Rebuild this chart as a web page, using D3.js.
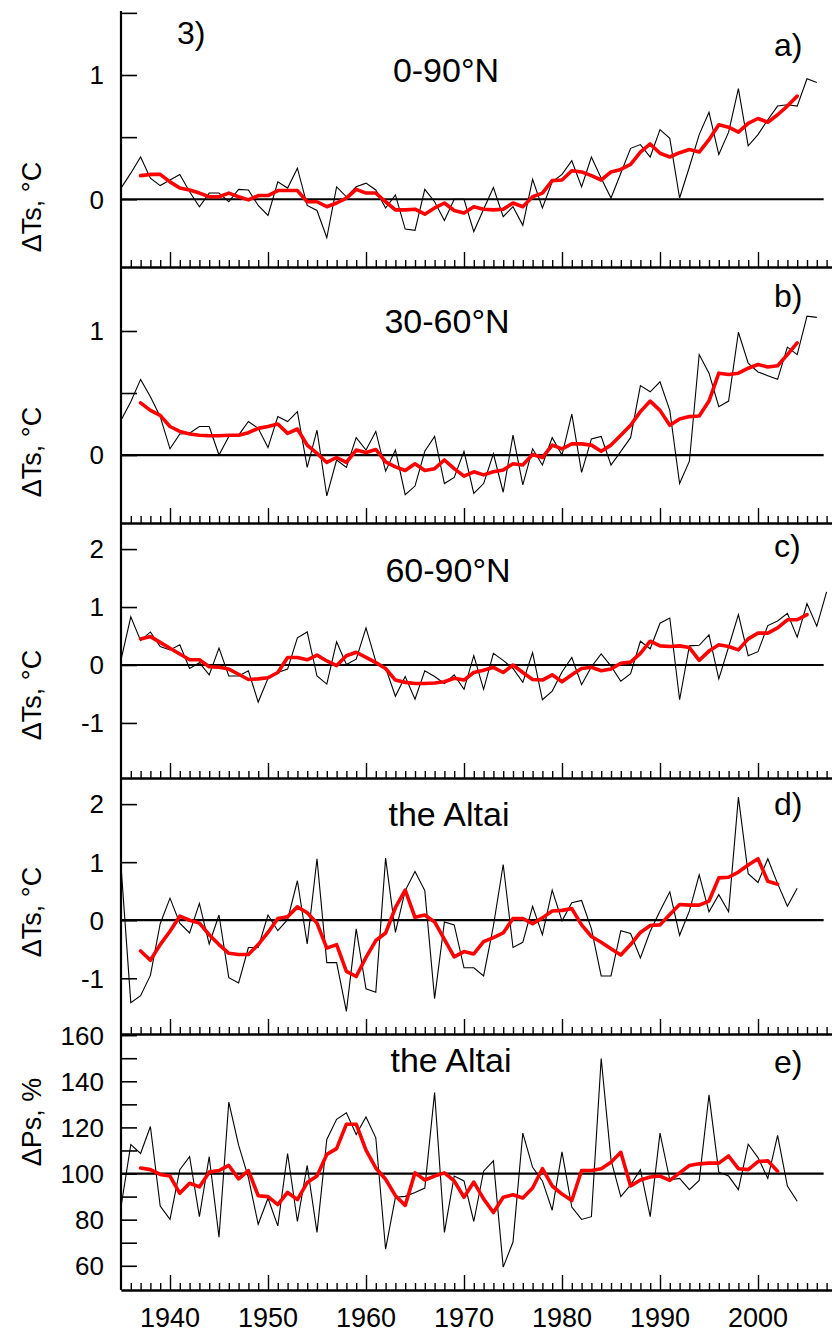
<!DOCTYPE html>
<html><head><meta charset="utf-8">
<script src="https://cdn.jsdelivr.net/npm/d3@7"></script>
<style>
body{margin:0;background:#fff}
svg{display:block}
text{font-family:"Liberation Sans",Arial,Helvetica,sans-serif;fill:#000}
</style>
</head><body>
<svg id="chart" width="832" height="1335"></svg>
<script>
// ---------- DATA ----------
const rawStartYear = 1935;     // first year of every annual (black) series
const smoothStartYear = 1937;  // first year of every smoothed (red) series
const xTickYears = [1940, 1950, 1960, 1970, 1980, 1990, 2000];

// a) 0-90°N, ΔTs °C
const tsNH = [0.09,0.21,0.34,0.17,0.11,0.155,0.20,0.06,-0.06,0.05,
  0.05,-0.02,0.08,0.075,-0.05,-0.13,0.14,0.09,0.25,-0.05,
  -0.09,-0.31,0.10,0.02,0.10,0.13,0.075,-0.07,0.035,-0.24,
  -0.25,0.08,-0.02,-0.17,0.0,0.0,-0.26,-0.08,0.094,-0.14,
  -0.06,-0.21,0.16,-0.07,0.14,0.20,0.31,0.10,0.34,0.17,
  0.01,0.21,0.41,0.44,0.34,0.56,0.49,0.01,0.26,0.52,
  0.70,0.36,0.54,0.89,0.43,0.52,0.64,0.75,0.76,0.75,
  0.97,0.94];
const tsNHSmooth = [0.19,0.20,0.20,0.14,0.09,0.075,0.05,0.02,0.02,0.05,
  0.02,-0.005,0.03,0.03,0.07,0.07,0.07,-0.02,-0.02,-0.06,
  -0.03,0.01,0.08,0.05,0.05,-0.02,-0.085,-0.085,-0.08,-0.12,
  -0.07,-0.03,-0.09,-0.11,-0.06,-0.08,-0.085,-0.08,-0.03,-0.06,
  0.02,0.05,0.15,0.155,0.23,0.22,0.19,0.155,0.22,0.24,
  0.28,0.38,0.445,0.37,0.34,0.375,0.40,0.38,0.48,0.60,
  0.58,0.54,0.61,0.65,0.62,0.68,0.75,0.83];

// b) 30-60°N, ΔTs °C
const tsMid = [0.28,0.43,0.61,0.47,0.31,0.05,0.17,0.175,0.23,0.23,
  0.0,0.15,0.16,0.27,0.215,0.06,0.31,0.27,0.35,-0.10,
  0.20,-0.33,-0.04,-0.10,0.14,0.04,0.19,-0.13,0.04,-0.32,
  -0.25,0.03,0.15,-0.23,-0.18,0.03,-0.31,-0.23,0.01,-0.30,
  0.16,-0.24,0.05,-0.08,0.14,0.0,0.33,-0.14,0.13,0.15,
  -0.08,0.03,0.14,0.56,0.51,0.59,0.36,-0.23,-0.05,0.81,
  0.66,0.39,0.435,0.99,0.74,0.67,0.64,0.61,0.87,0.81,
  1.12,1.11];
const tsMidSmooth = [0.42,0.36,0.32,0.23,0.19,0.17,0.16,0.155,0.155,0.16,
  0.16,0.18,0.215,0.23,0.25,0.175,0.21,0.08,0.013,-0.06,
  -0.02,-0.06,0.04,0.02,0.045,-0.055,-0.095,-0.125,-0.07,-0.125,
  -0.11,-0.04,-0.11,-0.17,-0.135,-0.16,-0.135,-0.12,-0.07,-0.08,
  0.005,-0.02,0.08,0.05,0.09,0.09,0.08,0.03,0.08,0.16,
  0.24,0.35,0.435,0.36,0.24,0.29,0.31,0.315,0.435,0.66,
  0.65,0.66,0.70,0.73,0.71,0.72,0.81,0.905];

// c) 60-90°N, ΔTs °C
const tsPolar = [0.09,0.83,0.42,0.57,0.32,0.26,0.35,-0.06,0.04,-0.17,
  0.29,-0.19,-0.19,-0.10,-0.64,-0.23,-0.13,-0.07,0.47,0.57,
  -0.19,-0.33,0.40,0.01,0.10,0.64,0.06,-0.05,-0.54,-0.20,
  -0.59,-0.10,-0.20,-0.32,-0.17,-0.42,0.16,-0.42,0.20,0.08,
  -0.06,-0.30,0.215,-0.60,-0.45,-0.12,0.13,-0.34,-0.03,0.19,
  -0.02,-0.28,-0.15,0.41,0.28,0.72,0.81,-0.60,0.33,0.34,
  0.52,-0.24,0.31,0.87,0.16,0.23,0.68,0.76,0.89,0.48,
  1.06,0.67,1.26];
const tsPolarSmooth = [0.45,0.49,0.39,0.29,0.19,0.09,0.09,-0.03,-0.04,-0.07,
  -0.16,-0.25,-0.24,-0.22,-0.13,0.13,0.13,0.09,0.17,0.07,
  -0.01,0.16,0.22,0.13,0.04,-0.06,-0.26,-0.30,-0.32,-0.32,
  -0.31,-0.29,-0.23,-0.26,-0.13,-0.09,-0.04,-0.13,0.0,-0.13,
  -0.25,-0.26,-0.17,-0.29,-0.17,-0.06,-0.04,-0.10,-0.07,0.03,
  0.05,0.20,0.41,0.33,0.32,0.33,0.30,0.08,0.24,0.35,
  0.32,0.26,0.45,0.55,0.55,0.64,0.78,0.78,0.87];

// d) the Altai, ΔTs °C
const tsAltai = [0.94,-1.42,-1.30,-0.95,-0.06,0.38,-0.05,-0.22,0.29,-0.41,
  0.09,-0.99,-1.08,-0.47,-0.47,0.09,-0.18,0.01,0.68,-0.41,
  1.06,-0.73,-0.73,-1.57,-0.15,-1.18,-1.24,1.07,-0.21,0.51,
  0.84,0.51,-1.35,-0.03,-0.08,-0.82,-0.82,-0.96,-0.10,0.96,
  -0.47,-0.38,0.24,-0.25,0.52,-0.01,0.30,0.34,-0.15,-0.96,
  -0.96,-0.18,-0.23,-0.65,-0.19,0.16,0.49,-0.26,0.16,0.78,
  0.145,0.44,0.145,2.12,0.80,0.65,1.06,0.63,0.24,0.55];
const tsAltaiSmooth = [-0.53,-0.69,-0.42,-0.19,0.07,0.0,-0.05,-0.25,-0.42,-0.57,
  -0.59,-0.59,-0.42,-0.21,0.03,0.06,0.23,0.13,-0.05,-0.48,
  -0.42,-0.88,-0.97,-0.64,-0.35,-0.22,0.215,0.52,0.05,0.09,
  -0.03,-0.33,-0.63,-0.54,-0.58,-0.37,-0.30,-0.22,0.03,0.03,
  -0.06,0.04,0.16,0.17,0.20,-0.08,-0.28,-0.38,-0.49,-0.60,
  -0.42,-0.21,-0.09,-0.08,0.10,0.27,0.26,0.26,0.33,0.73,
  0.74,0.83,0.95,1.06,0.67,0.62];

// e) the Altai, ΔPs %
const psAltai = [85.5,112.5,108.7,120.4,85.9,80.1,101.7,107.3,81.3,107.3,
  72.4,131,112.3,98.2,78.0,89.3,77.3,108.7,79.2,103.5,
  74.5,114.8,123.5,126.3,116.9,124.5,115.5,67.2,89.7,90.1,
  91.8,93.7,135.1,74.5,98.9,96.8,79.2,101,105.5,59.4,
  70.3,117.5,102.7,96.8,84.1,109.4,85.5,80.1,81.3,149.9,
  105.9,90.0,95.1,101.7,81.3,117.5,97.2,97.9,93.0,97.0,
  134.1,100.6,98.9,93.0,112.7,106.9,97.9,116.5,94.6,88.0];
const psAltaiSmooth = [102.4,101.7,99.6,98.9,91.4,95.8,94.2,100.6,101.3,103.5,
  97.7,101.3,90.4,90.0,86.5,91.8,88.7,96.1,98.9,108.3,
  110.8,121.4,121.4,110.1,102.4,97.5,90.4,86.2,100.3,97.2,
  98.9,100.3,96.8,89.7,96.3,89.0,83.1,89.7,90.8,89.4,
  93.7,102.1,94.6,91.1,88.3,101.3,101.3,102.1,104.9,109.2,
  94.6,97.2,98.5,98.9,97.0,100.3,103.5,104.2,104.5,104.5,
  107.6,102.1,101.7,105.2,105.5,101.0];

// y tick values / labels per panel
const tickA = [0, 0.5, 1, 1.5], labelA = [0, 1];
const tickB = [0, 0.5, 1], labelB = [0, 1];
const tickC = [-1, 0, 1, 2], labelC = [-1, 0, 1, 2];
const tickD = [-1, 0, 1, 2], labelD = [-1, 0, 1, 2];
const tickE = [60, 70, 80, 90, 100, 110, 120, 130, 140, 150, 160], labelE = [60, 80, 100, 120, 140, 160];

// ---------- LAYOUT ----------
const svg = d3.select("#chart");
const W = 832, axisX = 121;
const x = d3.scaleLinear().domain([1935, 2000]).range([axisX, 758]);
const xEndYear = x.invert(W);
const refLineEnd = 2006.7;

const panels = [
  {raw: tsNH, smooth: tsNHSmooth, top: 11, bottom: 267, domain: [-0.545, 1.515], ref: 0,
   ticks: tickA, labels: labelA, title: "0-90°N", tx: 446, ty: 82, tag: "a)", gy: 56,
   ylab: "ΔTs, °C", ly: 207},
  {raw: tsMid, smooth: tsMidSmooth, top: 267, bottom: 523, domain: [-0.548, 1.516], ref: 0,
   ticks: tickB, labels: labelB, title: "30-60°N", tx: 447, ty: 333, tag: "b)", gy: 307,
   ylab: "ΔTs, °C", ly: 452},
  {raw: tsPolar, smooth: tsPolarSmooth, top: 523, bottom: 778, domain: [-1.95, 2.45], ref: 0,
   ticks: tickC, labels: labelC, title: "60-90°N", tx: 448, ty: 582, tag: "c)", gy: 557,
   ylab: "ΔTs, °C", ly: 695},
  {raw: tsAltai, smooth: tsAltaiSmooth, top: 778, bottom: 1034, domain: [-1.96, 2.45], ref: 0,
   ticks: tickD, labels: labelD, title: "the Altai", tx: 449, ty: 826, tag: "d)", gy: 815,
   ylab: "ΔTs, °C", ly: 912},
  {raw: psAltai, smooth: psAltaiSmooth, top: 1034, bottom: 1290, domain: [49.5, 160.5], ref: 100,
   ticks: tickE, labels: labelE, title: "the Altai", tx: 451, ty: 1072, tag: "e)", gy: 1073,
   ylab: "ΔPs, %", ly: 1122}
];

const fmt = v => (v < 0 ? "-" + Math.abs(v) : String(v));

panels.forEach(p => {
  const y = d3.scaleLinear().domain(p.domain).range([p.bottom, p.top]);
  const g = svg.append("g");

  // bottom axis with inward (upward) ticks: minor every year, major every decade
  const years = d3.range(1936, Math.floor(xEndYear) + 1);
  const xs = d3.scaleLinear().domain([1935, xEndYear]).range([axisX, W]);
  const minor = g.append("g").attr("transform", `translate(0,${p.bottom})`)
    .call(d3.axisTop(xs).tickValues(years.filter(v => v % 10 !== 0)).tickSize(7).tickSizeOuter(0).tickFormat(""));
  const major = g.append("g").attr("transform", `translate(0,${p.bottom})`)
    .call(d3.axisTop(xs).tickValues(xTickYears).tickSize(15).tickSizeOuter(0).tickFormat(""));
  [minor, major].forEach(a => {
    a.select(".domain").attr("stroke-width", 2.2);
    a.selectAll(".tick line").attr("stroke-width", 1.4);
  });

  // left axis ticks (inward) + labels
  const ya = g.append("g").attr("transform", `translate(${axisX},0)`)
    .call(d3.axisLeft(y).tickValues(p.ticks).tickSizeInner(-16).tickSizeOuter(0).tickFormat(""));
  ya.select(".domain").remove();
  ya.selectAll(".tick line").attr("stroke-width", 1.6);
  g.selectAll(".ylab").data(p.labels).enter().append("text")
    .attr("x", 104).attr("y", d => y(d)).attr("dy", "0.36em")
    .attr("text-anchor", "end").attr("font-size", 26).text(fmt);

  // reference (zero) line
  g.append("line").attr("x1", axisX).attr("x2", x(refLineEnd))
    .attr("y1", y(p.ref)).attr("y2", y(p.ref))
    .attr("stroke", "#000").attr("stroke-width", 2.2);

  // series
  const line = d3.line().x(d => x(d.year)).y(d => y(d.v));
  const rawPts = p.raw.map((v, i) => ({year: rawStartYear + i, v}));
  const smPts = p.smooth.map((v, i) => ({year: smoothStartYear + i, v}));
  g.append("path").datum(rawPts).attr("d", line)
    .attr("fill", "none").attr("stroke", "#000").attr("stroke-width", 1.1)
    .attr("stroke-linejoin", "miter");
  g.append("path").datum(smPts).attr("d", line)
    .attr("fill", "none").attr("stroke", "#ff0000").attr("stroke-width", 3.6)
    .attr("stroke-linejoin", "round").attr("stroke-linecap", "round");

  // texts
  g.append("text").attr("x", p.tx).attr("y", p.ty).attr("text-anchor", "middle")
    .attr("font-size", 34).text(p.title);
  g.append("text").attr("x", 774).attr("y", p.gy).attr("font-size", 32).text(p.tag);
  g.append("text").attr("transform", `translate(41,${p.ly}) rotate(-90)`)
    .attr("text-anchor", "middle").attr("font-size", 27).text(p.ylab);
});

// y axis line (shared)
svg.append("line").attr("x1", axisX).attr("x2", axisX).attr("y1", 11).attr("y2", 1290)
  .attr("stroke", "#000").attr("stroke-width", 2.2);

// x tick labels
svg.selectAll(".xl").data(xTickYears).enter().append("text")
  .attr("x", d => x(d)).attr("y", 1327).attr("text-anchor", "middle")
  .attr("font-size", 27).text(d => d);

// panel figure number
svg.append("text").attr("x", 177).attr("y", 44).attr("font-size", 32).text("3)");
</script>
</body></html>
